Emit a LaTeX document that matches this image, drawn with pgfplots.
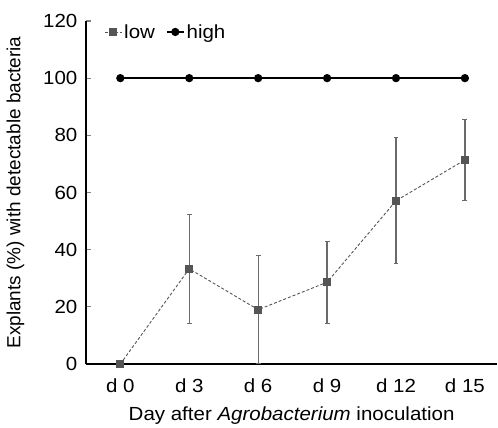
\documentclass[border=0pt]{standalone}
\usepackage{fontspec}
\setmainfont{Liberation Sans}
\newfontfamily\widefont[FakeStretch=1.08]{Liberation Sans}
\usepackage{pgfplots}
\pgfplotsset{compat=1.18}

\definecolor{lowgray}{HTML}{555555}
\definecolor{errgray}{HTML}{6A6A6A}

\begin{document}
\begin{tikzpicture}
\begin{axis}[
    scale only axis,
    width=412pt, height=343.5pt,
    xmin=-0.5, xmax=5.47,
    ymin=0, ymax=120,
    axis lines*=left,
    axis line style={line width=1.4pt},
    xtick={0,1,2,3,4,5},
    xticklabels={d 0, d 3, d 6, d 9, d 12, d 15},
    major x tick style={draw=none},
    ytick={0,20,...,120},
    tick align=inside,
    major tick length=5pt,
    y tick style={line width=1.2pt},
    /pgf/number format/assume math mode=true,
    tick label style={font=\widefont\fontsize{19}{22}\selectfont},
    xticklabel style={anchor=base, yshift=-28.5pt},
    yticklabel style={xshift=-5pt},
    xlabel={Day after \textit{Agrobacterium} inoculation},
    ylabel={Explants (\%) with detectable bacteria},
    xlabel style={font=\widefont\fontsize{19}{22}\selectfont,
        at={(axis description cs:0.5,0)}, anchor=base, yshift=-56.5pt},
    ylabel style={font=\fontsize{19}{22}\selectfont, yshift=12pt},
    clip=false,
    legend style={draw=none, fill=none, at={(axis description cs:0.037,1)},
        anchor=west, yshift=-11pt,
        font=\widefont\fontsize{19}{22}\selectfont, legend columns=-1,
        /tikz/every even column/.append style={column sep=9pt}},
    legend cell align=left,
]
\addplot[lowgray, densely dashed, line width=0.9pt,
    mark=square*, mark size=3.5pt, mark options={solid, fill=lowgray, draw=lowgray},
    error bars/.cd, y dir=both, y explicit,
    error bar style={errgray, solid, line width=1.3pt},
    error mark options={rotate=90, errgray, mark size=2.5pt, line width=1pt}]
    coordinates {
    (0,0) +- (0,0)
    (1,33.3) +- (0,19.1)
    (2,19.0) +- (0,19.0)
    (3,28.6) +- (0,14.3)
    (4,57.1) +- (0,22.0)
    (5,71.4) +- (0,14.3)
    };
\addplot[black, solid, line width=1.6pt, mark=*, mark size=3.3pt]
    coordinates {(0,100) (1,100) (2,100) (3,100) (4,100) (5,100)};
\legend{low, high}
\end{axis}
\useasboundingbox (-86pt,-60.5pt) rectangle (412pt,364.5pt);
\end{tikzpicture}
\end{document}
